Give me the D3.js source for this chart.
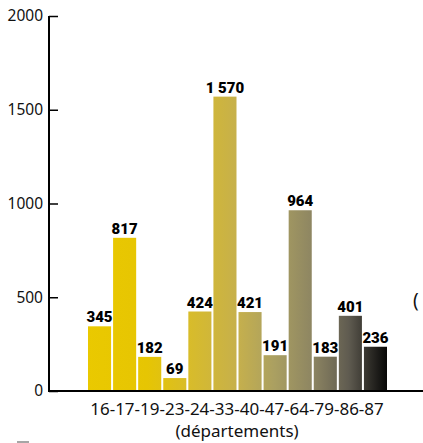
<!DOCTYPE html>
<html>
<head>
<meta charset="utf-8">
<script src="https://cdn.jsdelivr.net/npm/d3@7"></script>
<style>
  body { margin: 0; background: #fff; overflow: hidden; }
  svg { display: block; }
</style>
</head>
<body>
<div id="chart"></div>
<script>
const departements = ["16", "17", "19", "23", "24", "33", "40", "47", "64", "79", "86", "87"];
const values = [345, 817, 182, 69, 424, 1570, 421, 191, 964, 183, 401, 236];
const yTicks = [0, 500, 1000, 1500, 2000];
const xTitle = "(départements)";

const width = 423, height = 443;
const frFormat = d3.formatLocale({ decimal: ",", thousands: "\u00a0", grouping: [3], currency: ["", " €"] }).format(",d");

const svg = d3.select("#chart").append("svg")
  .attr("width", width)
  .attr("height", height);

const xScale = d3.scaleBand()
  .domain(departements)
  .range([87.5, 387.5])
  .paddingInner(0.08)
  .paddingOuter(0.02);

const yScale = d3.scaleLinear()
  .domain([0, 2000])
  .range([391, 16]);

// horizontal gradient running across all bars
const grad = svg.append("defs").append("linearGradient")
  .attr("id", "barGrad")
  .attr("gradientUnits", "userSpaceOnUse")
  .attr("x1", 87).attr("x2", 388)
  .attr("y1", 0).attr("y2", 0);
[
  [0, "#eac900"], [0.2, "#e6c503"], [0.34, "#d8bc2a"], [0.5, "#c6b04c"],
  [0.62, "#aba061"], [0.75, "#8d8562"], [0.87, "#5f5b50"], [1, "#050505"]
].forEach(([o, c]) => grad.append("stop").attr("offset", o).attr("stop-color", c));

svg.selectAll(".bar")
  .data(values)
  .enter()
  .append("rect")
  .attr("class", "bar")
  .attr("x", (d, i) => xScale(departements[i]))
  .attr("y", d => yScale(d))
  .attr("width", xScale.bandwidth())
  .attr("height", d => yScale(0) - yScale(d))
  .attr("fill", "url(#barGrad)");

svg.selectAll(".val")
  .data(values)
  .enter()
  .append("text")
  .attr("class", "val")
  .attr("x", (d, i) => xScale(departements[i]) + xScale.bandwidth() / 2)
  .attr("y", d => yScale(d) - 4)
  .attr("text-anchor", "middle")
  .attr("font-family", "Roboto, 'Noto Sans', sans-serif")
  .attr("font-weight", 900)
  .attr("font-size", "15px")
  .attr("fill", "#000")
  .text(d => frFormat(d));

// Y axis
const yAxis = svg.append("g")
  .attr("transform", "translate(49,0)")
  .call(d3.axisRight(yScale).tickValues(yTicks).tickSize(9).tickFormat(d3.format("d")));
yAxis.select(".domain").attr("stroke", "#000").attr("stroke-width", 2).attr("d", "M0,16V391");
yAxis.selectAll(".tick line").attr("stroke", "#000").attr("stroke-width", 1.5);
yAxis.selectAll(".tick text")
  .attr("x", -6)
  .attr("text-anchor", "end")
  .attr("font-family", "'Noto Sans', sans-serif")
  .attr("font-size", "15.5px")
  .attr("fill", "#111");

// X axis baseline
svg.append("line")
  .attr("x1", 48).attr("x2", width)
  .attr("y1", yScale(0)).attr("y2", yScale(0))
  .attr("stroke", "#000")
  .attr("stroke-width", 2);

// X labels
svg.append("text")
  .attr("x", 237)
  .attr("y", 415)
  .attr("text-anchor", "middle")
  .attr("font-family", "'Noto Sans', sans-serif")
  .attr("font-size", "17px")
  .attr("fill", "#111")
  .text(departements.join("-"));

svg.append("text")
  .attr("x", 237)
  .attr("y", 437)
  .attr("text-anchor", "middle")
  .attr("font-family", "'Noto Sans', sans-serif")
  .attr("font-size", "17px")
  .attr("fill", "#111")
  .text(xTitle);

// clipped label at right edge
svg.append("text")
  .attr("x", 413)
  .attr("y", 307)
  .attr("font-family", "'Noto Sans', sans-serif")
  .attr("font-size", "19px")
  .attr("fill", "#111")
  .text("(");

// small grey mark bottom-left
svg.append("line")
  .attr("x1", 17).attr("x2", 29)
  .attr("y1", 442).attr("y2", 442)
  .attr("stroke", "#888")
  .attr("stroke-width", 1.5);
</script>
</body>
</html>
